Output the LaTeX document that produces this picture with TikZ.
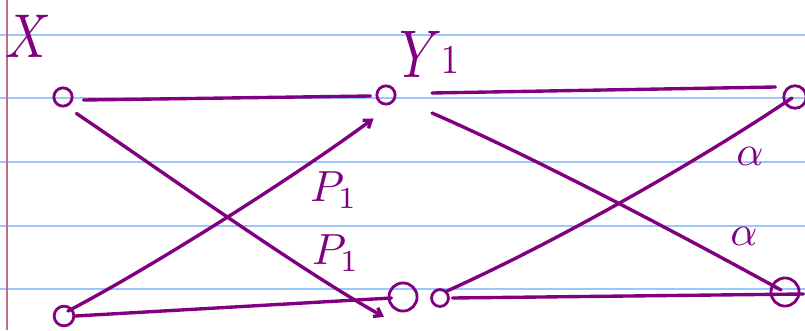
\documentclass[tikz,border=0pt]{standalone}
\usepackage{amsmath}
\usepackage{graphicx}
\usepackage{tikz}
\usetikzlibrary{arrows.meta,positioning}
\definecolor{ink}{RGB}{128,0,128}
\definecolor{rule}{RGB}{155,200,250}
\definecolor{margin}{RGB}{190,110,140}

\begin{document}
\begin{tikzpicture}[x=0.025cm, y=-0.025cm, >={Straight Barb[length=5pt,width=7pt]},
    unit/.style={draw=ink,circle,line width=2pt,inner sep=0pt},
    wire/.style={draw=ink,line width=2.4pt,line cap=round},
    lbl/.style={text=ink,inner sep=0pt}]
    \useasboundingbox (0,0) rectangle (805,330);
    % ruled paper
    \foreach \y in {35,98,162,226,289}
      \draw[rule,line width=1.3pt] (0,\y) -- (805,\y);
    \draw[margin,line width=1.3pt] (7,0) -- (7,330);
    % units
    \node[unit,minimum size=13pt] (x1) at (63,97) {};
    \node[unit,minimum size=14pt] (x2) at (64,316) {};
    \node[unit,minimum size=13pt] (y1) at (386,95) {};
    \node[unit,minimum size=20pt] (y2) at (403,297) {};
    \node[unit,minimum size=12pt] (y2o) at (440,298) {};
    \coordinate (y1o) at (432,93);
    \node[unit,minimum size=16pt] (z1) at (795,97) {};
    \node[unit,minimum size=20pt] (z2) at (785,292) {};
    % labels
    \node[lbl] (lx) at (28,36) {\scalebox{3.6}[4.4]{$X$}};
    \node[lbl] (ly) at (421,54) {\scalebox{3.8}[4.8]{$Y$}};
    \node[lbl] (ly1) at (450,60) {\scalebox{2.6}[2.9]{$1$}};
    \node[lbl] (lp1) at (334,190) {\scalebox{3.1}{$P_1$}};
    \node[lbl] (lp2) at (336,253) {\scalebox{3.1}{$P_1$}};
    \node[lbl] (la1) at (750,156) {\scalebox{3}{$\alpha$}};
    \node[lbl] (la2) at (744,236) {\scalebox{3}{$\alpha$}};
    % first layer
    \draw[wire] ([shift={(10,3)}]x1.east) -- ([shift={(-5,1)}]y1.west);
    \draw[wire,->] ([shift={(6,9)}]x1.south east) .. controls (160,170) and (300,270) .. ([shift={(-8,9)}]y2.south west);
    \draw[wire,->] ([shift={(-4,3)}]x2.north east) .. controls (150,268) and (290,180) .. ([shift={(-5,16)}]y1.south west);
    \draw[wire] (x2.east) -- ([shift={(4,1)}]y2.west);
    % second layer
    \draw[wire] (y1o) -- ([shift={(-7,-10)}]z1.west);
    \draw[wire] ([shift={(0,20)}]y1o) .. controls (540,160) and (690,240) .. ([shift={(-4,-2)}]z2.center);
    \draw[wire] (y2o.north east) .. controls (560,240) and (700,160) .. ([shift={(-3,1)}]z1.center);
    \draw[wire] ([xshift=2pt]y2o.east) -- ([shift={(3,2)}]z2.east);
\end{tikzpicture}
\end{document}
